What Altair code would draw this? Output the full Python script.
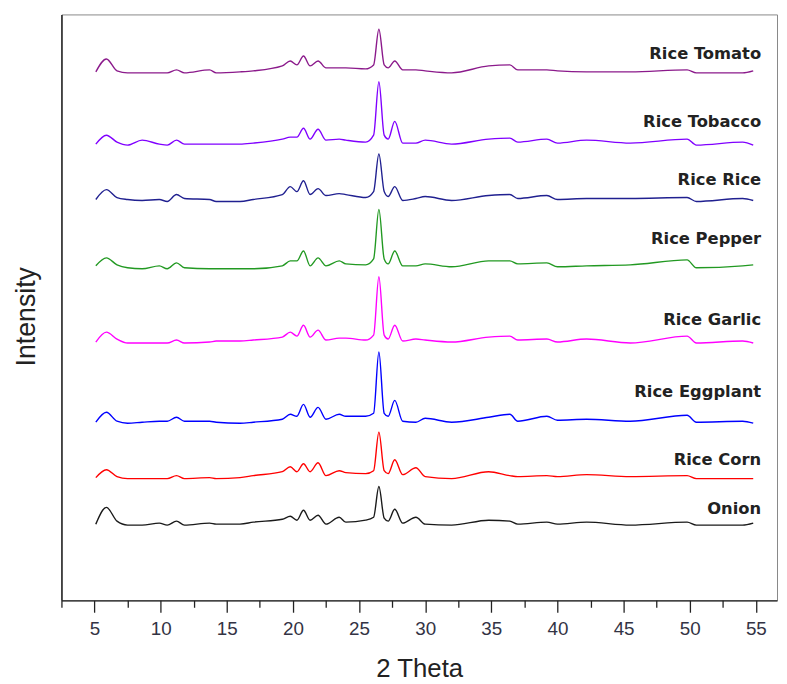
import altair as alt
import pandas as pd

two_theta = [5.1, 5.9, 6.7, 7.5, 8.6, 9.9, 10.5, 11.2, 11.8, 13.7, 14.2, 16, 17, 19.2, 19.8,
             20.3, 20.8, 21.3, 21.9, 22.5, 23.5, 24, 25.5, 26.1, 26.5, 26.9, 27.2, 27.7, 28.3,
             29.3, 30, 32, 34.8, 36.4, 37, 39.2, 40, 42.2, 45.5, 49.8, 50.5, 54, 54.8]

onion = [1, 18, 4, 0, 0, 2, 0, 4, 0, 2, 1, 1, 3, 6, 9, 5, 15, 5, 10, 1, 8, 3, 5, 8, 39, 7, 4, 16,
         2, 8, 1, 0, 5, 4, 1, 3, 1, 3, 0, 3, 0, 0, 2]
rice_corn = [1, 9, 2, 0, 0, 0, 0, 3, 0, 1, 0, 1, 3, 7, 12, 7, 15, 7, 16, 3, 8, 6, 5, 8, 47, 8, 5,
             19, 4, 11, 2, 0, 7, 3, 2, 3, 2, 4, 2, 3, 0, 0, 0]
rice_eggplant = [1, 11, 2, 0, 1, 2, 2, 6, 2, 2, 1, 0, 1, 4, 9, 7, 19, 6, 16, 4, 9, 7, 7, 10, 72, 10,
                 7, 23, 2, 1, 5, 1, 6, 9, 2, 7, 3, 4, 2, 8, 1, 2, 0]
rice_garlic = [1, 11, 4, 0, 0, 0, 0, 3, 0, 1, 2, 2, 3, 6, 11, 7, 18, 6, 13, 3, 5, 5, 3, 8, 67, 8, 4,
               18, 2, 4, 3, 1, 6, 7, 3, 4, 1, 4, 0, 7, 0, 2, 0]
rice_pepper = [3, 11, 4, 1, 0, 3, 0, 6, 1, 0, 0, 0, 0, 3, 8, 8, 18, 3, 11, 3, 8, 5, 4, 10, 60, 10, 5,
               18, 3, 3, 5, 2, 8, 8, 5, 6, 2, 3, 4, 9, 1, 3, 4]
rice_rice = [2, 12, 4, 2, 1, 2, 0, 7, 3, 2, 0, 0, 2, 7, 15, 10, 21, 7, 13, 6, 8, 7, 4, 10, 48, 10, 5,
             15, 1, 3, 5, 1, 6, 7, 3, 6, 2, 3, 3, 4, 0, 3, 1]
rice_tobacco = [1, 10, 3, 0, 5, 1, 0, 5, 1, 1, 1, 1, 2, 6, 8, 8, 17, 6, 16, 5, 6, 5, 3, 10, 64, 10, 6,
                24, 2, 2, 5, 1, 6, 7, 3, 6, 2, 5, 2, 6, 0, 3, 0]
rice_tomato = [1, 14, 2, 0, 0, 0, 0, 3, 0, 3, 0, 1, 2, 7, 12, 8, 17, 7, 12, 5, 5, 5, 4, 8, 44, 8, 5,
               12, 3, 3, 2, 0, 7, 8, 3, 3, 2, 1, 1, 3, 0, 0, 2]

series_names = ["Onion", "Rice Corn", "Rice Eggplant", "Rice Garlic",
                "Rice Pepper", "Rice Rice", "Rice Tobacco", "Rice Tomato"]
series_values = [onion, rice_corn, rice_eggplant, rice_garlic,
                 rice_pepper, rice_rice, rice_tobacco, rice_tomato]
offsets = [76, 123, 179, 260, 335, 403, 460, 533]
label_heights = [92, 142, 210, 283, 365, 425, 483, 552]
colors = ["#1a1a1a", "#ff0000", "#0000ff", "#ff00ff",
          "#229922", "#202090", "#8000ff", "#8b1a8b"]

major_ticks = [5, 10, 15, 20, 25, 30, 35, 40, 45, 50, 55]
minor_ticks = [2.5, 7.5, 12.5, 17.5, 22.5, 27.5, 32.5, 37.5, 42.5, 47.5, 52.5]

rows = []
for name, vals, off in zip(series_names, series_values, offsets):
    for t, v in zip(two_theta, vals):
        rows.append({"series": name, "theta": t, "y": v + off})
df = pd.DataFrame(rows)
lab = pd.DataFrame({"series": series_names, "theta": [55.4] * len(series_names), "y": label_heights})

x_scale = alt.Scale(domain=[2.5, 56.6], nice=False, zero=False)
y_scale = alt.Scale(domain=[0, 592], nice=False, zero=False)
color_scale = alt.Scale(domain=series_names, range=colors)

x_axis = alt.Axis(
    orient="bottom",
    values=major_ticks,
    tickSize=12,
    labelOverlap=False,
    labelFlush=False,
    labelFont="Liberation Sans",
    labelFontSize=19,
    labelColor="#333344",
    labelPadding=8,
    tickColor="#222",
    tickWidth=1.3,
    domainColor="#222",
    domainWidth=1.3,
    grid=False,
    title="2 Theta",
    titleFont="Liberation Sans",
    titleFontSize=26,
    titleFontWeight="normal",
    titleColor="#222",
    titleBaseline="alphabetic",
    titleY=77,
)

x_minor_axis = alt.Axis(
    orient="bottom",
    values=minor_ticks,
    tickSize=7,
    tickColor="#222",
    tickWidth=1.3,
    labels=False,
    domain=False,
    grid=False,
    title=None,
)

y_axis = alt.Axis(
    ticks=False,
    labels=False,
    grid=False,
    domainColor="#222",
    domainWidth=1.5,
    title="Intensity",
    titleFont="Liberation Sans",
    titleFontSize=27,
    titleFontWeight="normal",
    titleColor="#222",
    titleAngle=270,
    titleBaseline="alphabetic",
    titleAlign="center",
    titleX=-27,
    titleY=305,
)

lines = alt.Chart(df).mark_line(strokeWidth=1.4, interpolate="monotone").encode(
    x=alt.X("theta:Q", scale=x_scale, axis=x_axis),
    y=alt.Y("y:Q", scale=y_scale, axis=y_axis),
    color=alt.Color("series:N", scale=color_scale, legend=None),
    detail="series:N",
)

texts = alt.Chart(lab).mark_text(
    align="right", baseline="middle", font="DejaVu Sans",
    fontWeight="bold", fontSize=16.5, color="#222"
).encode(
    x=alt.X("theta:Q", scale=x_scale, axis=x_minor_axis),
    y=alt.Y("y:Q", scale=y_scale, axis=y_axis),
    text="series:N",
)

chart = alt.layer(lines, texts).resolve_axis(x="independent").properties(
    width=723, height=592,
    autosize=alt.AutoSizeParams(type="none"),
    padding={"left": 54, "top": 3, "right": 2, "bottom": 80},
    background="white",
).configure_view(stroke="#888", strokeWidth=1)

chart.save("out.html", embed_options={"renderer": "svg", "actions": False})
